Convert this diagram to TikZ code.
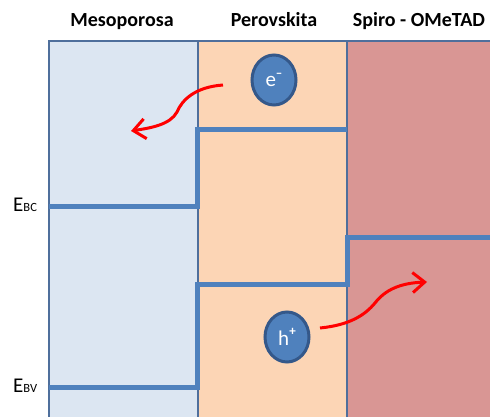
\documentclass[tikz,border=0pt]{standalone}
\usepackage{fontspec}
\setmainfont{Carlito}
\usetikzlibrary{arrows.meta,shapes.geometric}
\definecolor{mesofill}{HTML}{DCE6F2}
\definecolor{perofill}{HTML}{FCD5B5}
\definecolor{spirofill}{HTML}{D99694}
\definecolor{frame}{HTML}{4F6F9C}
\definecolor{level}{HTML}{4F81BD}
\definecolor{ballrim}{HTML}{34588A}
\tikzset{
  layer/.style={draw=frame, line width=1.5pt},
  bandline/.style={draw=level, line width=5pt},
  title/.style={font=\bfseries\fontsize{20}{20}\selectfont, anchor=base},
  carrier/.style={ellipse, fill=level, draw=ballrim, line width=3pt,
    minimum width=44pt, minimum height=50pt, inner sep=0pt, text=white,
    font=\fontsize{21}{21}\selectfont},
  flow/.style={draw=red, line width=3pt, -{Straight Barb[length=12pt,width=20pt,line width=3pt]}},
  elabel/.style={anchor=base west, inner sep=0pt}
}
\begin{document}
\begin{tikzpicture}[x=1pt,y=-1pt]
\useasboundingbox (0,0) rectangle (490,417);
% layers
\fill[mesofill] (49,41) rectangle (198,420);
\fill[perofill] (198,41) rectangle (347,420);
\fill[spirofill] (347,41) rectangle (495,420);
\draw[layer] (49,420) -- (49,41) -- (495,41);
\draw[layer] (198,41) -- (198,420);
\draw[layer] (347,41) -- (347,420);
% titles
\node[title] (tmeso) at (122,27) {Mesoporosa};
\node[title] (tpero) at (274,27) {Perovskita};
\node[title] (tspiro) at (419,27) {Spiro - OMeTAD};
% conduction band
\draw[bandline] (49,206) -- (197,206) -- (197,130) -- (347,130);
% valence band
\draw[bandline] (49,387) -- (197,387) -- (197,284) -- (347,284) -- (347,237) -- (495,237);
% energy labels
\node[elabel] (ebc) at (13,211) {{\fontsize{21}{21}\selectfont E}{\fontsize{12.5}{12.5}\selectfont BC}};
\node[elabel] (ebv) at (13,392) {{\fontsize{21}{21}\selectfont E}{\fontsize{12.5}{12.5}\selectfont BV}};
% carriers
\node[carrier] (elec) at (274,80) {e\raisebox{0.45em}{\fontsize{13}{13}\selectfont\bfseries –}};
\node[carrier] (hole) at (287,337) {h\raisebox{0.45em}{\fontsize{13}{13}\selectfont\bfseries +}};
% transfer paths
\coordinate (es) at (223,85);
\coordinate (ee) at (131,131);
\coordinate (hs) at (320,328);
\coordinate (he) at (427,282);
\draw[flow] (es) .. controls (195,87) and (182,100) .. (177,112)
  .. controls (170,125) and (150,128) .. (ee);
\draw[flow] (hs) .. controls (350,325) and (365,315) .. (375,303)
  .. controls (385,290) and (400,283) .. (he);
\end{tikzpicture}
\end{document}
